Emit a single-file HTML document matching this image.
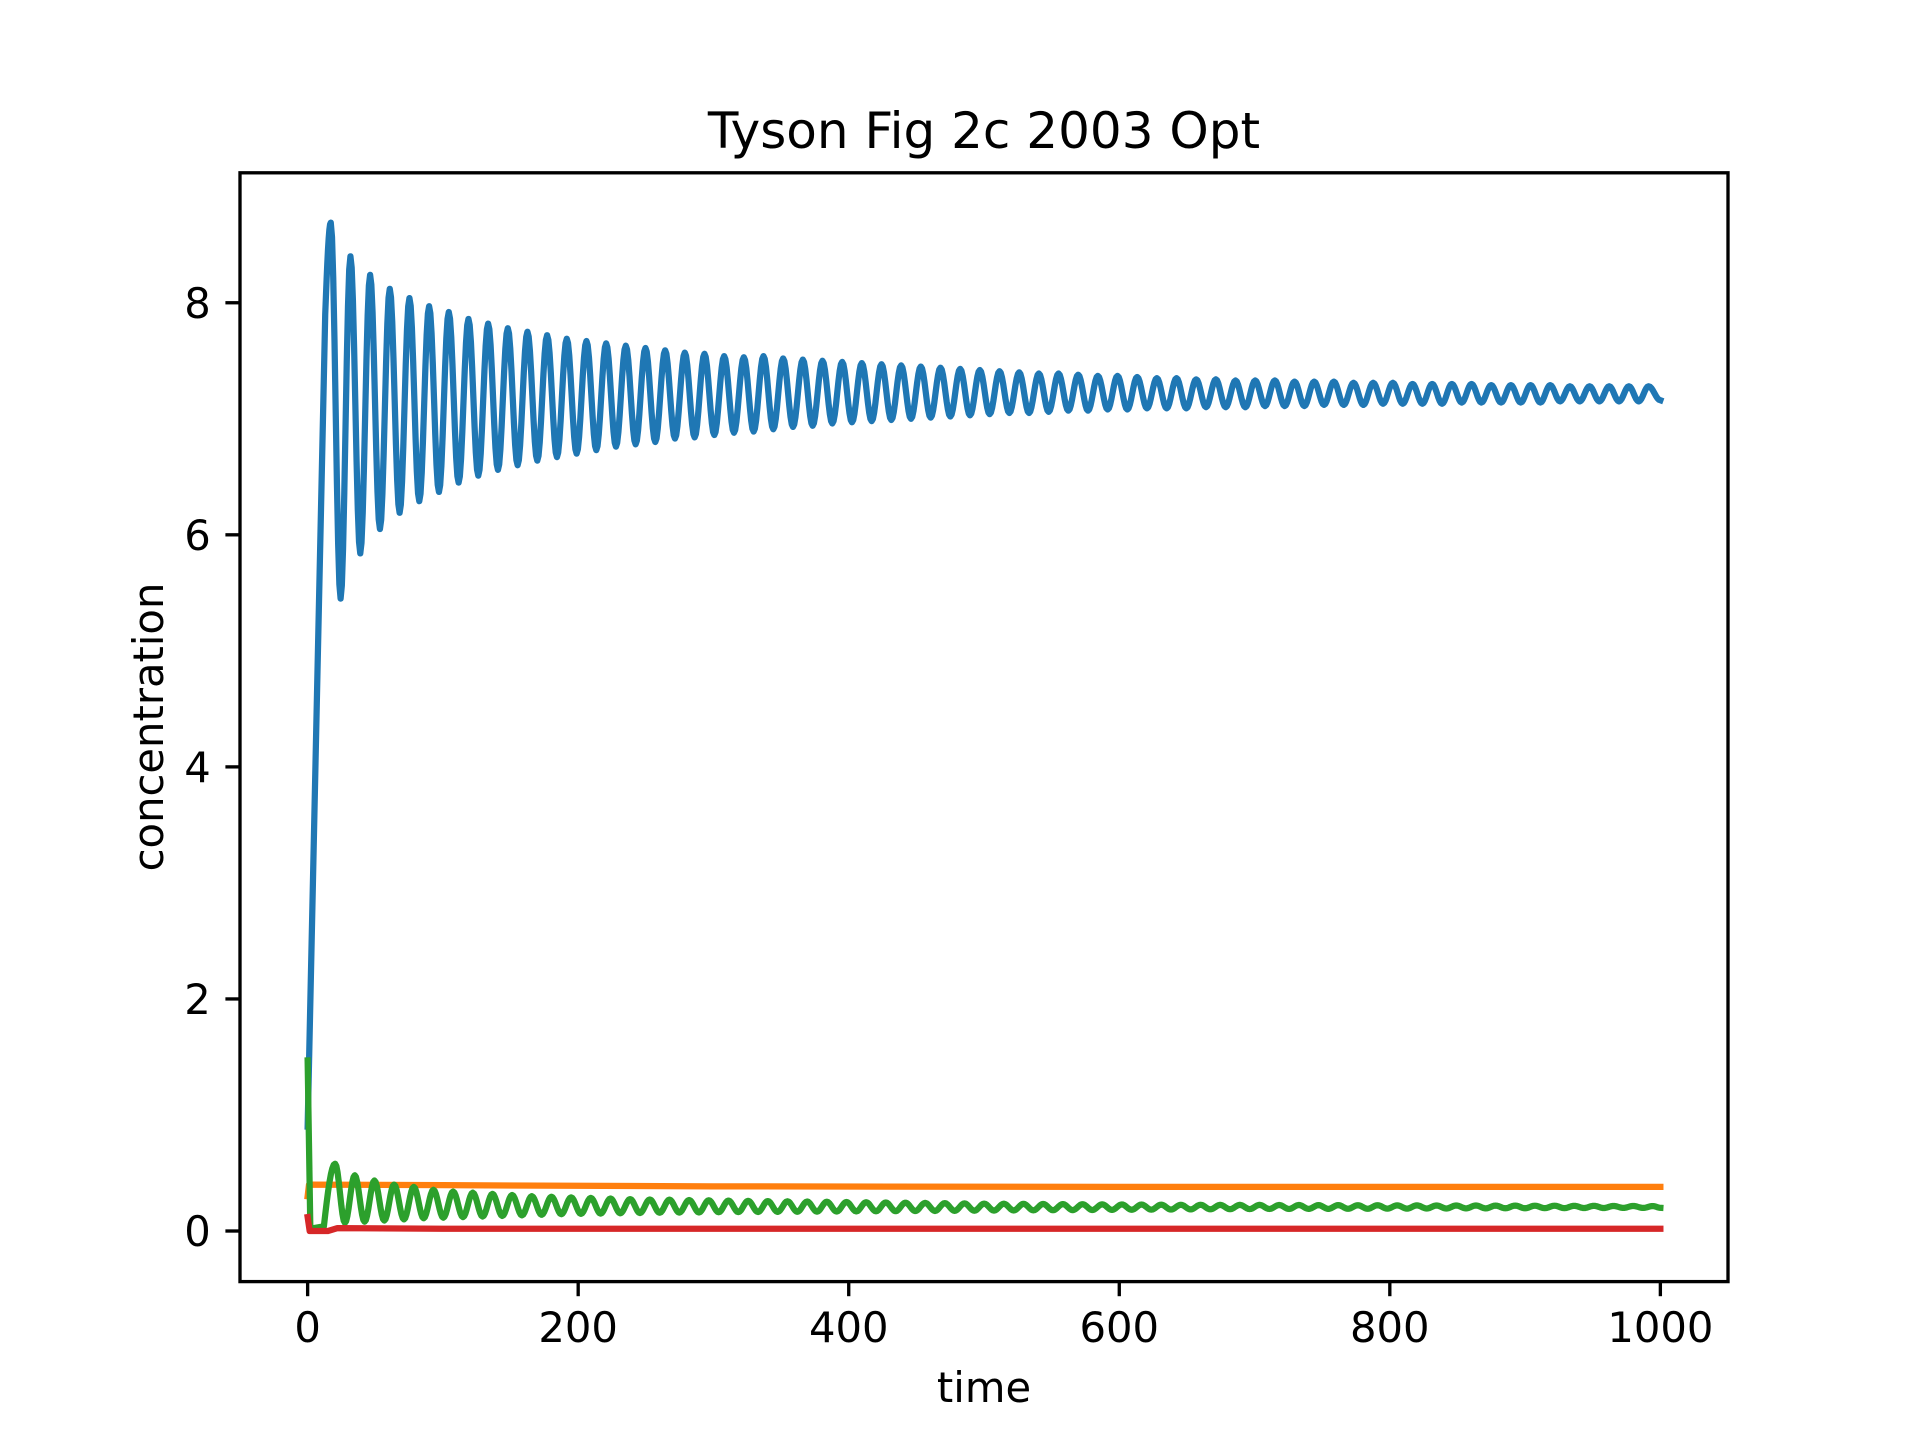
<!DOCTYPE html>
<html><head><meta charset="utf-8"><style>
html,body{margin:0;padding:0;background:#fff;}
svg{display:block;font-family:"DejaVu Sans","Liberation Sans",sans-serif;}
</style></head><body>
<svg id="chart" width="1920" height="1440" viewBox="0 0 1920 1440" xmlns="http://www.w3.org/2000/svg">
<rect x="0" y="0" width="1920" height="1440" fill="#fff"/>
<text x="984" y="148" font-size="50" text-anchor="middle">Tyson Fig 2c 2003 Opt</text>
<g id="series"></g>
<g id="axes"></g>
<text x="984" y="1402" font-size="41.7" text-anchor="middle">time</text>
<text x="0" y="0" font-size="41.7" text-anchor="middle" transform="translate(163,727) rotate(-90)">concentration</text>
</svg>
<script>
const xTicks = [0, 200, 400, 600, 800, 1000];
const yTicks = [0, 2, 4, 6, 8];
const period = 14.54;
const blueLead = [[0, 0.9], [13, 7.9]];
const blueFirstPeakT = 17.1;
const blueEnd = [1000, 7.16];
const bluePeaks = [8.69,8.40,8.24,8.12,8.04,7.97,7.92,7.86,7.82,7.78,7.75,7.72,7.69,7.67,7.65,7.63,7.61,7.59,7.57,7.56,7.54,7.53,
7.54,7.52,7.51,7.50,7.49,7.48,7.47,7.46,7.45,7.44,7.43,7.42,7.41,7.40,7.39,7.39,7.38,7.37,7.37,7.36,7.35,7.35,7.34,7.34,7.33,
7.33,7.33,7.32,7.32,7.32,7.31,7.31,7.31,7.30,7.30,7.30,7.30,7.29,7.29,7.29,7.29,7.28,7.28,7.28,7.28,7.28];
const blueTroughs = [5.45,5.84,6.05,6.19,6.29,6.37,6.45,6.51,6.56,6.60,6.64,6.67,6.70,6.73,6.76,6.78,6.80,6.83,6.84,6.86,6.88,
6.89,6.91,6.93,6.94,6.96,6.97,6.98,6.99,7.00,7.01,7.02,7.03,7.04,7.05,7.05,7.06,7.07,7.07,7.08,7.08,7.09,7.09,7.09,7.10,7.10,
7.10,7.11,7.11,7.11,7.12,7.12,7.12,7.13,7.13,7.13,7.13,7.14,7.14,7.14,7.14,7.14,7.15,7.15,7.15,7.15,7.15];
const greenLead = [[0,1.47],[2,0.02],[12,0.04]];
const greenFirstPeakT = 20.3;
const greenEnd = [1000, 0.20];
const greenPeaks = [0.58,0.48,0.435,0.40,0.38,0.355,0.34,0.33,0.32,0.31,0.30,0.295,0.29,0.285,0.28,0.275,0.272,0.27,0.267,0.265,0.262,0.26,
0.258,0.256,0.254,0.252,0.25,0.248,0.246,0.244,0.242,0.24,0.238,0.236,0.235,0.234,0.233,0.232,0.231,0.23,0.229,0.228,0.227,0.226,0.226,0.225,0.225,
0.225,0.224,0.224,0.223,0.223,0.222,0.222,0.221,0.221,0.22,0.22,0.22,0.219,0.219,0.218,0.218,0.217,0.217,0.216,0.216,0.215];
const greenTroughs = [0.07,0.08,0.09,0.10,0.11,0.115,0.12,0.125,0.13,0.135,0.14,0.145,0.148,0.15,0.153,0.155,0.157,0.159,0.16,0.162,0.163,0.164,
0.165,0.166,0.167,0.168,0.169,0.17,0.171,0.172,0.173,0.174,0.175,0.176,0.177,0.178,0.179,0.18,0.181,0.182,0.183,0.184,0.185,0.186,0.187,0.188,0.189,
0.19,0.19,0.191,0.191,0.192,0.192,0.193,0.193,0.194,0.194,0.195,0.195,0.196,0.196,0.197,0.197,0.198,0.198,0.199,0.199,0.2];
const orangeT = [0, 1, 100, 300, 600, 1000];
const orangeV = [0.30, 0.40, 0.395, 0.385, 0.38, 0.38];
const redT = [0, 1.5, 15, 22, 100, 400, 1000];
const redV = [0.12, 0.0, 0.0, 0.025, 0.02, 0.02, 0.02];

const L=240, R=1728, T=172.8, B=1281.6;
const xMin=-50, xMax=1050, yMin=-0.436, yMax=9.12;
function sx(t){return L+(t-xMin)/(xMax-xMin)*(R-L);}
function sy(v){return B-(v-yMin)/(yMax-yMin)*(B-T);}
const NS='http://www.w3.org/2000/svg';
const gS=document.getElementById('series'), gA=document.getElementById('axes');

function oscPoints(lead, firstT, peaks, troughs, end){
  const pts=[...lead];
  const ext=[lead[lead.length-1]];
  for(let i=0;i<peaks.length;i++){
    const tp=firstT+i*period;
    if(tp<=end[0]) ext.push([tp,peaks[i]]);
    const tt=tp+period/2;
    if(i<troughs.length && tt<end[0]) ext.push([tt,troughs[i]]);
  }
  ext.push(end);
  pts.pop();
  for(let i=0;i<ext.length-1;i++){
    const [t0,v0]=ext[i],[t1,v1]=ext[i+1];
    const n=8;
    for(let k=0;k<n;k++){
      const f=k/n;
      const w = i===0 ? Math.sin(Math.PI*f/2) : (1-Math.cos(Math.PI*f))/2;
      pts.push([t0+(t1-t0)*f, v0+(v1-v0)*w]);
    }
  }
  pts.push(ext[ext.length-1]);
  return pts;
}
function addLine(pts,color,name){
  const p=document.createElementNS(NS,'path');
  p.setAttribute('d',pts.map((q,i)=>(i?'L':'M')+sx(q[0]).toFixed(2)+','+sy(q[1]).toFixed(2)).join(''));
  p.setAttribute('fill','none');p.setAttribute('stroke',color);p.setAttribute('stroke-width','6.25');
  p.setAttribute('stroke-linejoin','round');p.setAttribute('stroke-linecap','square');
  
  
  gS.appendChild(p);
}
addLine(oscPoints(blueLead,blueFirstPeakT,bluePeaks,blueTroughs,blueEnd),'#1f77b4','series-blue-line');
addLine(orangeT.map((t,i)=>[t,orangeV[i]]),'#ff7f0e','series-orange-line');
addLine(oscPoints(greenLead,greenFirstPeakT,greenPeaks,greenTroughs,greenEnd),'#2ca02c','series-green-line');
addLine(redT.map((t,i)=>[t,redV[i]]),'#d62728','series-red-line');

const frame=document.createElementNS(NS,'rect');
frame.setAttribute('x',L);frame.setAttribute('y',T);frame.setAttribute('width',R-L);frame.setAttribute('height',B-T);
frame.setAttribute('fill','none');frame.setAttribute('stroke','#000');frame.setAttribute('stroke-width','3.33');


gA.appendChild(frame);
xTicks.forEach(t=>{
  const x=sx(t);
  const l=document.createElementNS(NS,'line');
  l.setAttribute('x1',x);l.setAttribute('x2',x);l.setAttribute('y1',B);l.setAttribute('y2',B+14.6);
  l.setAttribute('stroke','#000');l.setAttribute('stroke-width','3.33');
  
  
  gA.appendChild(l);
  const tx=document.createElementNS(NS,'text');
  tx.setAttribute('x',x);tx.setAttribute('y',B+14.6+14.6+31);tx.setAttribute('font-size','41.7');tx.setAttribute('text-anchor','middle');
  tx.textContent=t;
  
  
  gA.appendChild(tx);
});
yTicks.forEach(v=>{
  const y=sy(v);
  const l=document.createElementNS(NS,'line');
  l.setAttribute('x1',L-14.6);l.setAttribute('x2',L);l.setAttribute('y1',y);l.setAttribute('y2',y);
  l.setAttribute('stroke','#000');l.setAttribute('stroke-width','3.33');
  
  
  gA.appendChild(l);
  const tx=document.createElementNS(NS,'text');
  tx.setAttribute('x',L-14.6-14.6);tx.setAttribute('y',y+15);tx.setAttribute('font-size','41.7');tx.setAttribute('text-anchor','end');
  tx.textContent=v;
  
  
  gA.appendChild(tx);
});
</script>
</body></html>
